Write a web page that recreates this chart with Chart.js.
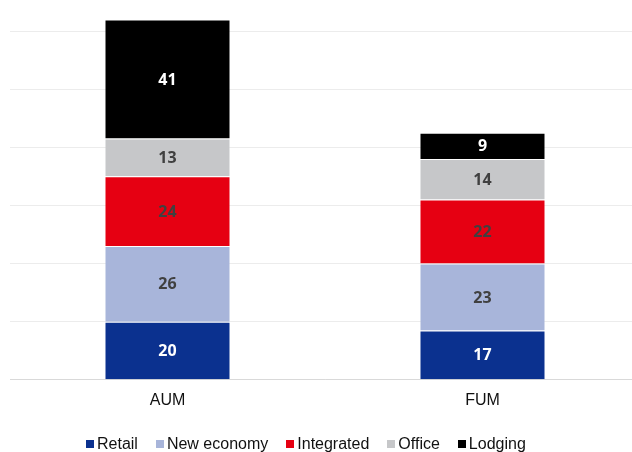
<!DOCTYPE html>
<html>
<head>
<meta charset="utf-8">
<script src="https://cdn.jsdelivr.net/npm/chart.js@4.4.1/dist/chart.umd.min.js"></script>
<style>
  body { margin: 0; background: #fff; }
  #wrap { position: relative; width: 632px; height: 452px; overflow: hidden; }
  #chart { display: block; }
  #legend {
    position: absolute; left: 86px; top: 436px;
    display: flex; align-items: center;
    font-family: "Liberation Sans", Arial, sans-serif; font-size: 16px; line-height: 16px; color: #111;
  }
  #legend .item { display: flex; align-items: center; margin-right: 18px; white-space: nowrap; }
  #legend .box { width: 8px; height: 8px; margin-right: 3px; }
</style>
</head>
<body>
<div id="wrap">
  <canvas id="chart" width="640" height="452"></canvas>
  <div id="legend"></div>
</div>
<script>
// categories and series
const categories = ["AUM", "FUM"];
const seriesNames = ["Retail", "New economy", "Integrated", "Office", "Lodging"];
const retail = [20, 17];
const newEconomy = [26, 23];
const integrated = [24, 22];
const office = [13, 14];
const lodging = [41, 9];
const seriesValues = [retail, newEconomy, integrated, office, lodging];
const seriesColors = ["#0B318F", "#A8B5DA", "#E60012", "#C6C7C9", "#000000"];
const valueColors = ["#ffffff", "#404040", "#404040", "#404040", "#ffffff"];
const gridTicks = [0, 20, 40, 60, 80, 100, 120];

// writes each segment's value in the middle of the segment
const valueLabels = {
  id: "valueLabels",
  afterDatasetsDraw(chart) {
    const ctx = chart.ctx;
    ctx.save();
    ctx.font = "bold 16px 'Open Sans', sans-serif";
    ctx.textAlign = "center";
    ctx.textBaseline = "middle";
    chart.data.datasets.forEach((ds, i) => {
      const meta = chart.getDatasetMeta(i);
      meta.data.forEach((bar, j) => {
        const { x, y, base } = bar.getProps(["x", "y", "base"], true);
        ctx.fillStyle = valueColors[i];
        ctx.fillText(ds.data[j], x, (y + base) / 2 + 1);
      });
    });
    ctx.restore();
  },
};

const datasets = seriesNames.map((name, i) => ({
  label: name,
  data: seriesValues[i],
  backgroundColor: seriesColors[i],
  borderColor: "rgba(255,255,255,0.15)",
  borderWidth: 1,
  barPercentage: 0.4,
  categoryPercentage: 1,
}));

const chart = new Chart(document.getElementById("chart"), {
  type: "bar",
  data: { labels: categories, datasets: datasets },
  options: {
    responsive: false,
    animation: false,
    layout: { padding: { left: 10, right: 0, top: 2, bottom: 31 } },
    plugins: { legend: { display: false }, tooltip: { enabled: false } },
    scales: {
      x: {
        stacked: true,
        grid: { display: false, drawTicks: false },
        border: { display: true, color: "#d9d9d9", width: 1 },
        ticks: {
          padding: 11,
          color: "#111",
          font: { family: "'Liberation Sans', Arial, sans-serif", size: 16 },
        },
      },
      y: {
        stacked: true,
        min: 0,
        max: 130,
        afterBuildTicks: (axis) => {
          axis.ticks = gridTicks.map((v) => ({ value: v }));
        },
        grid: { color: "#ececec", lineWidth: 1, drawTicks: false },
        border: { display: false },
        ticks: { display: false },
      },
    },
  },
  plugins: [valueLabels],
});

// legend built from the chart's datasets
const legend = document.getElementById("legend");
chart.data.datasets.forEach((ds) => {
  const item = document.createElement("div");
  item.className = "item";
  const box = document.createElement("span");
  box.className = "box";
  box.style.background = ds.backgroundColor;
  const text = document.createElement("span");
  text.textContent = ds.label;
  item.append(box, text);
  legend.append(item);
});
</script>
</body>
</html>
